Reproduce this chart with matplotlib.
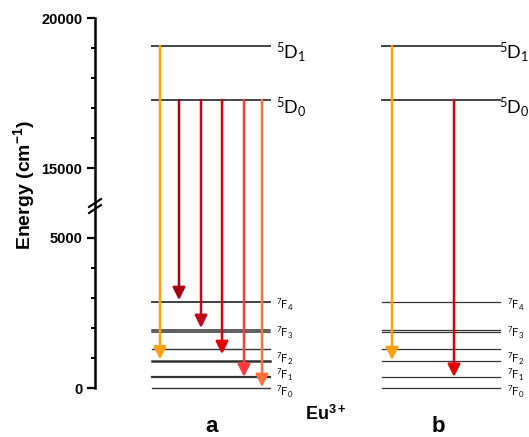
import numpy as np
import matplotlib
matplotlib.use("Agg")
import matplotlib.pyplot as plt
from matplotlib.ticker import FixedLocator, FuncFormatter

plt.rcParams['font.family'] = ['Liberation Sans', 'DejaVu Sans']
plt.rcParams['mathtext.fontset'] = 'custom'
plt.rcParams['mathtext.rm'] = 'Lato'
plt.rcParams['mathtext.it'] = 'Lato:italic'
plt.rcParams['mathtext.bf'] = 'Liberation Sans:bold'

# ---- data (cm^-1) ----
upper_labels = [r'$^{5}\mathrm{D}_{1}$', r'$^{5}\mathrm{D}_{0}$']
upper_levels = [19067, 17267]
lower_levels = [2870, 1930, 1870, 1290, 900, 357, 0]
lower_labels = [r'$^{7}\mathrm{F}_{4}$', r'$^{7}\mathrm{F}_{3}$', r'$^{7}\mathrm{F}_{2}$',
                r'$^{7}\mathrm{F}_{1}$', r'$^{7}\mathrm{F}_{0}$']
# transition end energies
a_d1_end = [950]
a_d0_ends = [2930, 2000, 1130, 370, 30]
b_d1_end = [930]
b_d0_ends = [370]
major_ticks = [0, 5000, 15000, 20000]
minor_ticks = [1000, 2000, 3000, 4000, 16000, 17000, 18000, 19000]

# broken axis scale
B1, B2 = 6100, 13767
GAP = B2 - B1

def fwd(e):
    e = np.asarray(e, dtype=float)
    return np.where(e < B1, e, np.where(e > B2, e - GAP, B1))

def inv(d):
    d = np.asarray(d, dtype=float)
    return np.where(d < B1, d, d + GAP)

W, H = 529, 437
fig = plt.figure(figsize=(W / 100, H / 100), dpi=100)
ax_x0 = 95
ax = fig.add_axes([ax_x0 / W, (H - 388) / H, (W - ax_x0) / W, 370 / H])
ax.set_yscale('function', functions=(fwd, inv))
ax.set_ylim(0, 20000)
ax.set_xlim(0, W - ax_x0)

for s in ['top', 'right', 'bottom']:
    ax.spines[s].set_visible(False)
ax.spines['left'].set_linewidth(1.8)
ax.set_xticks([])
ax.yaxis.set_major_locator(FixedLocator(major_ticks))
ax.yaxis.set_minor_locator(FixedLocator(minor_ticks))
ax.yaxis.set_major_formatter(FuncFormatter(lambda v, p: f'{v:.0f}'))
ax.tick_params(axis='y', which='major', length=6, width=1.6, labelsize=10.5, pad=3)
ax.tick_params(axis='y', which='minor', length=3, width=1.4)
for t in ax.get_yticklabels():
    t.set_fontweight('bold')
fig.text(24 / W, 1 - 185 / H, r'Energy (cm$^{\mathbf{-1}}$)', fontsize=14,
         fontweight='bold', rotation=90, ha='center', va='center')

# break marks
for yy in (203, 209):
    yd = 1 - (yy - 18) / 370
    ax.plot([-6 / (W - ax_x0), 6 / (W - ax_x0)], [yd - 4 / 370, yd + 4 / 370],
            transform=ax.transAxes, color='black', lw=1.5, clip_on=False)

line_col = '#333333'
pa = (152 - ax_x0, 270 - ax_x0)
pb = (382 - ax_x0, 500 - ax_x0)
a_widths = [1.3, 1.1, 1.1, 1.0, 1.8, 1.6, 1.0]
for e in upper_levels:
    ax.plot(pa, [e, e], color='#444444', lw=1.4, clip_on=False)
    ax.plot(pb, [e, e], color='#444444', lw=1.4, clip_on=False)
for e, lw in zip(lower_levels, a_widths):
    ax.plot(pa, [e, e], color=line_col, lw=lw, clip_on=False)
    ax.plot(pb, [e, e], color=line_col, lw=0.9, clip_on=False)

# labels
up_lab_y = [18880, 17020]
for lab, y in zip(upper_labels, up_lab_y):
    ax.text(276 - ax_x0, y, lab, fontsize=13, va='center', ha='left')
    ax.text(499 - ax_x0, y, lab, fontsize=13, va='center', ha='left')
low_lab_y = [2770, 1830, 980, 440, -110]
for lab, y in zip(lower_labels, low_lab_y):
    ax.text(276 - ax_x0, y, lab, fontsize=8, va='center', ha='left')
    ax.text(507 - ax_x0, y, lab, fontsize=8, va='center', ha='left')

def arrow(x, y0, y1, c):
    ax.annotate('', xy=(x, y1), xytext=(x, y0),
                arrowprops=dict(arrowstyle='-|>,head_length=0.5,head_width=0.25',
                                color=c, lw=1.8, mutation_scale=15,
                                shrinkA=0, shrinkB=0))

orange = '#FFA010'
reds = ['#A8000F', '#C0081A', '#E00000', '#FF3B3B', '#FF7038']
arrow(160 - ax_x0, upper_levels[0], a_d1_end[0], orange)
for x, e, c in zip([179, 201, 222, 244, 262], a_d0_ends, reds):
    arrow(x - ax_x0, upper_levels[1], e, c)
arrow(392 - ax_x0, upper_levels[0], b_d1_end[0], orange)
arrow(454 - ax_x0, upper_levels[1], b_d0_ends[0], '#E50000')

fig.text(212 / W, 1 - 427 / H, 'a', fontsize=16, fontweight='bold', ha='center', va='center')
fig.text(438 / W, 1 - 427 / H, 'b', fontsize=16, fontweight='bold', ha='center', va='center')
fig.text(326 / W, 1 - 414 / H, r'Eu$^{\mathbf{3+}}$', fontsize=13, fontweight='bold',
         ha='center', va='center')

fig.savefig('out.png', dpi=100)
